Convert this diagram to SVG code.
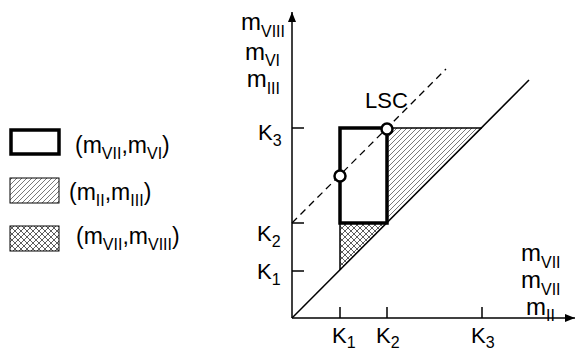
<svg xmlns="http://www.w3.org/2000/svg" width="576" height="350" viewBox="0 0 576 350">
<style>
  text { font-family: "Liberation Sans", Arial, sans-serif; fill: #000; }
  .lab { font-size: 24px; }
  .k { font-size: 22px; }
  .leg { font-size: 23px; }
  .sub { font-size: 16px; }
  .thin { stroke: #000; stroke-width: 1.5; fill: none; }
  .thick { stroke: #000; stroke-width: 3.5; fill: none; }
  .dash { stroke: #000; stroke-width: 1.3; fill: none; stroke-dasharray: 7 5; }
  .pt { fill: #fff; stroke: #000; stroke-width: 2.5; }
</style>
<defs>
  <pattern id="hatch" patternUnits="userSpaceOnUse" width="5" height="5">
    <path d="M0,5 L5,0 M-1,1 L1,-1 M4,6 L6,4" stroke="#555" stroke-width="0.8"/>
  </pattern>
  <pattern id="cross" patternUnits="userSpaceOnUse" width="6" height="6">
    <path d="M0,6 L6,0 M-1,1 L1,-1 M5,7 L7,5 M0,0 L6,6 M-1,5 L1,7 M5,-1 L7,1" stroke="#333" stroke-width="0.8"/>
  </pattern>
  <marker id="arr" viewBox="0 0 10 10" refX="10" refY="5" markerWidth="10" markerHeight="10" markerUnits="userSpaceOnUse" orient="auto">
    <path d="M0,1 L10,5 L0,9 Z" fill="#000"/>
  </marker>
</defs>

<g id="legend">
  <g id="legend-box">
    <rect x="11" y="130" width="48" height="24" class="thick"/>
    <text class="leg" x="75" y="153">(m<tspan class="sub" dy="6">VII</tspan><tspan dy="-6">,m</tspan><tspan class="sub" dy="6">VI</tspan><tspan dy="-6">)</tspan></text>
  </g>
  <g id="legend-hatch">
    <rect x="10" y="178" width="49" height="25" fill="url(#hatch)" stroke="#000" stroke-width="1"/>
    <text class="leg" x="69" y="200">(m<tspan class="sub" dy="6">II</tspan><tspan dy="-6">,m</tspan><tspan class="sub" dy="6">III</tspan><tspan dy="-6">)</tspan></text>
  </g>
  <g id="legend-cross">
    <rect x="10" y="226" width="49" height="25" fill="url(#cross)" stroke="#000" stroke-width="1"/>
    <text class="leg" x="76" y="244">(m<tspan class="sub" dy="6">VII</tspan><tspan dy="-6">,m</tspan><tspan class="sub" dy="6">VIII</tspan><tspan dy="-6">)</tspan></text>
  </g>
</g>

<g id="regions">
  <polygon id="hatched-region" points="387,128 482,128 387,223" fill="url(#hatch)"/>
  <polygon id="crosshatched-region" points="340,223 387,223 340,270" fill="url(#cross)"/>
</g>

<g id="connectors">
  <line x1="292" y1="318" x2="292" y2="12" class="thin" marker-end="url(#arr)"/>
  <line x1="292" y1="318" x2="575" y2="318" class="thin" marker-end="url(#arr)"/>
  <line x1="292" y1="318" x2="529" y2="80" class="thin"/>
  <line x1="292" y1="223" x2="446" y2="69" class="dash"/>
  <line x1="387" y1="128" x2="482" y2="128" class="thin"/>
  <line x1="292" y1="128" x2="304" y2="128" class="thin"/>
  <line x1="292" y1="223" x2="304" y2="223" class="thin"/>
  <line x1="292" y1="271" x2="304" y2="271" class="thin"/>
  <line x1="340" y1="318" x2="340" y2="307" class="thin"/>
  <line x1="387" y1="318" x2="387" y2="307" class="thin"/>
  <line x1="482" y1="318" x2="482" y2="307" class="thin"/>
  <line x1="340" y1="223" x2="340" y2="270" class="thin"/>
</g>

<g id="thick-box">
  <rect x="340" y="128" width="47" height="95" class="thick"/>
</g>

<g id="points">
  <circle cx="340" cy="176" r="5.5" class="pt"/>
  <circle cx="387" cy="129" r="5.5" class="pt"/>
</g>

<g id="labels">
  <text class="lab" x="285" y="30" text-anchor="end">m<tspan class="sub" dy="7">VIII</tspan></text>
  <text class="lab" x="280" y="60" text-anchor="end">m<tspan class="sub" dy="6">VI</tspan></text>
  <text class="lab" x="280" y="87" text-anchor="end">m<tspan class="sub" dy="7">III</tspan></text>
  <text class="k" x="365" y="108">LSC</text>
  <text class="k" x="258" y="140">K<tspan class="sub" dy="6">3</tspan></text>
  <text class="k" x="257" y="241">K<tspan class="sub" dy="6">2</tspan></text>
  <text class="k" x="257" y="279">K<tspan class="sub" dy="6">1</tspan></text>
  <text class="k" x="332" y="343">K<tspan class="sub" dy="5">1</tspan></text>
  <text class="k" x="376" y="343">K<tspan class="sub" dy="5">2</tspan></text>
  <text class="k" x="471" y="343">K<tspan class="sub" dy="5">3</tspan></text>
  <text class="lab" x="521" y="261">m<tspan class="sub" dy="7">VII</tspan></text>
  <text class="lab" x="521" y="288">m<tspan class="sub" dy="7">VII</tspan></text>
  <text class="lab" x="526" y="315">m<tspan class="sub" dy="6">II</tspan></text>
</g>
</svg>
